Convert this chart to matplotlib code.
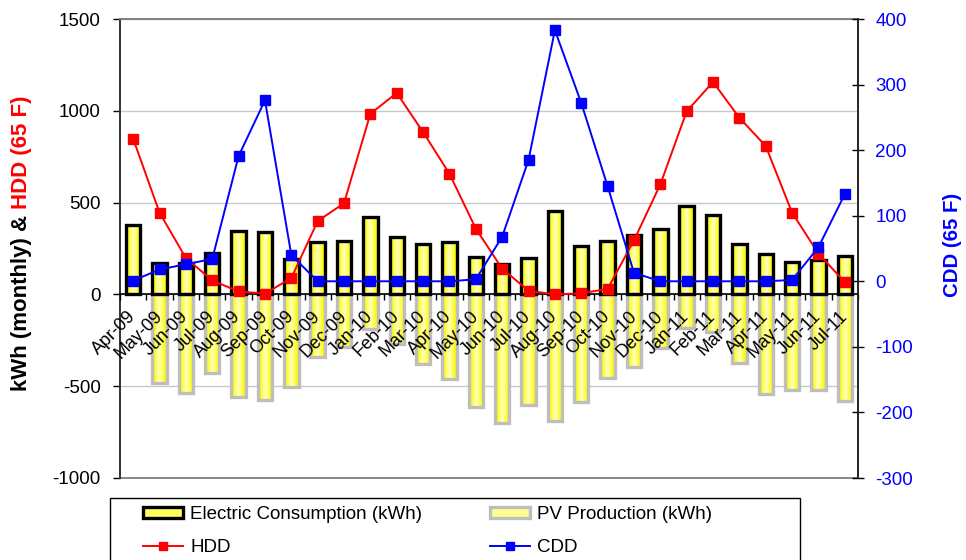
import matplotlib
matplotlib.use('Agg')
import matplotlib.pyplot as plt
import numpy as np
from matplotlib.patches import Rectangle, Patch
from matplotlib.lines import Line2D
from matplotlib.colors import LinearSegmentedColormap

# ---------------- data ----------------
months = ['Apr-09', 'May-09', 'Jun-09', 'Jul-09', 'Aug-09', 'Sep-09', 'Oct-09',
          'Nov-09', 'Dec-09', 'Jan-10', 'Feb-10', 'Mar-10', 'Apr-10', 'May-10',
          'Jun-10', 'Jul-10', 'Aug-10', 'Sep-10', 'Oct-10', 'Nov-10', 'Dec-10',
          'Jan-11', 'Feb-11', 'Mar-11', 'Apr-11', 'May-11', 'Jun-11', 'Jul-11']
consumption = [380, 170, 170, 228, 348, 340, 192, 288, 292, 422, 312, 275, 288, 206,
               168, 200, 455, 265, 292, 325, 358, 482, 433, 275, 222, 178, 190, 210]
pv_production = [0, -485, -538, -430, -560, -573, -502, -342, -285, -190, -270, -380,
                 -462, -615, -700, -602, -690, -588, -458, -398, -290, -185, -205,
                 -372, -540, -520, -520, -578]
hdd = [848, 445, 198, 76, 16, 4, 89, 399, 497, 984, 1097, 884, 657, 358,
       140, 20, 0, 6, 30, 294, 599, 997, 1157, 962, 808, 445, 222, 67]
cdd = [1, 18, 26, 34, 191, 276, 40, 0, 0, 0, 0, 0, 0, 3,
       68, 185, 383, 272, 145, 13, 0, 0, 0, 0, 0, 2, 52, 133]
left_ticks = [-1000, -500, 0, 500, 1000, 1500]
right_ticks = [-300, -200, -100, 0, 100, 200, 300, 400]

plt.rcParams['font.family'] = ['Liberation Sans', 'DejaVu Sans']
plt.rcParams['axes.unicode_minus'] = False

W, H = 966, 560
fig = plt.figure(figsize=(W / 100, H / 100), dpi=100)
ax = fig.add_axes([120 / W, 1 - 478 / H, 738 / W, 459 / H])

x = np.arange(len(months))
bar_w = 0.55
cmap = LinearSegmentedColormap.from_list('ygrad', ['#F2F200', '#FFFF40', '#FFFFC8', '#FFFF40', '#F2F200'])
grad = np.linspace(0, 1, 64).reshape(1, -1)


def gradient_bars(vals, edgecolor):
    bars = ax.bar(x, vals, width=bar_w, color='#FFFF00', edgecolor='none', zorder=2)
    for b in bars:
        h = b.get_height()
        if h == 0:
            continue
        x0, y0, w = b.get_x(), b.get_y(), b.get_width()
        im = ax.imshow(grad, cmap=cmap, aspect='auto', interpolation='bilinear',
                       extent=[x0, x0 + w, min(y0, y0 + h), max(y0, y0 + h)], zorder=2.1)
        im.set_clip_path(b)
    ecs = [edgecolor if v != 0 else 'none' for v in vals]
    ax.bar(x, vals, width=bar_w, facecolor='none', edgecolor=ecs, linewidth=2.4, zorder=2.2)


gradient_bars(pv_production, '#BEBEBE')
gradient_bars(consumption, '#000000')

ax.plot(x, hdd, color='#FF0000', lw=1.4, marker='s', markersize=7, zorder=4)

ax.set_xlim(-0.5, len(months) - 0.5)
ax.set_ylim(-1000, 1500)
ax.set_yticks(left_ticks)
for v in left_ticks:
    ax.axhline(v, color='#C8C8C8', lw=1, zorder=0.5)
ax.tick_params(axis='y', direction='out', length=5, width=1, pad=9, labelsize=13.5,
               colors='black')

# category axis at zero
ax.spines['bottom'].set_position(('data', 0))
ax.spines['bottom'].set_color('black')
ax.spines['bottom'].set_linewidth(1.2)
ax.spines['bottom'].set_zorder(3)
ax.set_xticks(np.arange(-0.5, len(months), 1))
ax.set_xticklabels([])
ax.set_xticks(x, labels=months, minor=True)
ax.tick_params(axis='x', which='major', direction='out', length=4, width=1)
ax.tick_params(axis='x', which='minor', length=0, pad=14, labelsize=13)
for lab in ax.get_xticklabels(minor=True):
    lab.set_rotation(45)
    lab.set_ha('right')
    lab.set_va('center')
    lab.set_rotation_mode('anchor')
ax.xaxis.set_zorder(3)

ax.spines['left'].set_color('#303030')
ax.spines['left'].set_linewidth(1.3)
ax.spines['top'].set_color('#808080')
ax.spines['top'].set_linewidth(1.3)
ax.spines['right'].set_visible(False)
ax.add_patch(Rectangle((0, 0), 1, 1, transform=ax.transAxes, fill=False,
                       edgecolor='#808080', lw=1.3, zorder=1, clip_on=False))

# secondary axis
ax2 = ax.twinx()
ax2.plot(x, cdd, color='#0000FF', lw=1.4, marker='s', markersize=7, zorder=5)
ax2.set_ylim(-300, 400)
ax2.set_yticks(right_ticks)
for s in ['left', 'top', 'bottom']:
    ax2.spines[s].set_visible(False)
ax2.spines['right'].set_color('#202020')
ax2.spines['right'].set_linewidth(1.3)
ax2.tick_params(axis='y', direction='inout', length=9, width=1, pad=8,
                labelsize=13.5, colors='black', labelcolor='#0000FF')

# axis titles
fig.canvas.draw()
r = fig.canvas.get_renderer()
fs_left = 16
t1 = fig.text(22 / W, 0.5, 'kWh (monthly) & ', rotation=90, rotation_mode='anchor',
              ha='right', va='center', fontsize=fs_left, fontweight='bold', color='black')
t2 = fig.text(22 / W, 0.5, 'HDD (65 F)', rotation=90, rotation_mode='anchor',
              ha='left', va='center', fontsize=fs_left, fontweight='bold', color='#FF0000')
h1 = t1.get_window_extent(r).height
h2 = t2.get_window_extent(r).height
center_px = 243
split_px_from_top = center_px - (h1 + h2) / 2 + h2
ysplit = 1 - split_px_from_top / H
t1.set_position((22 / W, ysplit))
t2.set_position((22 / W, ysplit))
fig.text(953 / W, 1 - 245 / H, 'CDD (65 F)', rotation=90, ha='center', va='center',
         fontsize=14.7, fontweight='bold', color='#0000FF')

# legend
fig.patches.append(Rectangle((110 / W, 1 - 580 / H), 690 / W, 82 / H,
                             transform=fig.transFigure, fill=False,
                             edgecolor='black', lw=1.0))
leg_fs = 13.5
tmp = fig.text(0, 0, 'Electric Consumption (kWh)', fontsize=leg_fs)
tw = tmp.get_window_extent(r).width
tmp.remove()
fpx = leg_fs * 100 / 72
handle_px = 40
pad_px = 7
col_space = (490 - (143 + handle_px + pad_px + tw)) / fpx

handles = [Patch(facecolor='#FFFF60', edgecolor='black', lw=2.4),
           Line2D([], [], color='#FF0000', lw=1.4, marker='s', markersize=6),
           Patch(facecolor='#FFFF90', edgecolor='#BEBEBE', lw=2.4),
           Line2D([], [], color='#0000FF', lw=1.4, marker='s', markersize=6)]
labels = ['Electric Consumption (kWh)', 'HDD', 'PV Production (kWh)', 'CDD']
leg = fig.legend(handles, labels, ncol=2, loc='upper left',
                 bbox_to_anchor=(143 / W, 1 - 506 / H), frameon=False,
                 fontsize=leg_fs, handlelength=handle_px / fpx,
                 handletextpad=pad_px / fpx, columnspacing=col_space,
                 handleheight=0.5, labelspacing=0.85, borderpad=0, borderaxespad=0)

fig.savefig('out.png', dpi=100)
